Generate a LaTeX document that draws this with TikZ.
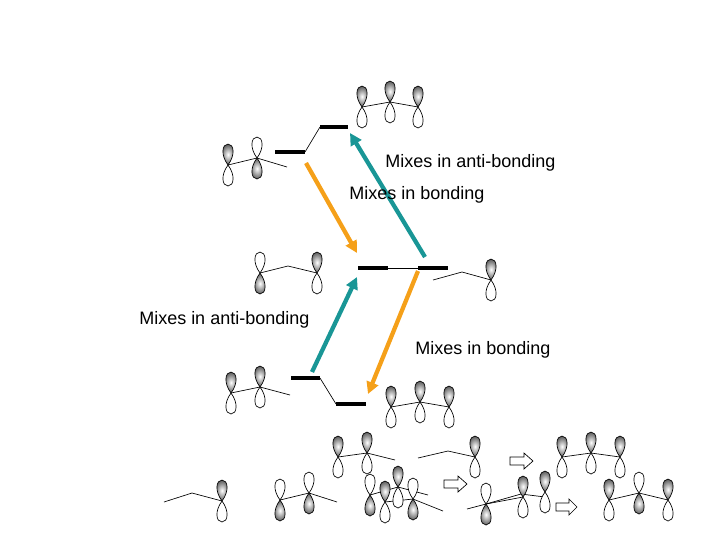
\documentclass[tikz,border=0pt]{standalone}
\usepackage{fontspec}
\setmainfont{Liberation Sans}
\begin{document}
\begin{tikzpicture}[x=0.75pt,y=-0.75pt,
  shl/.style={draw=black,line width=0.5pt,inner color=white,outer color=black!65,shading=radial},
  opl/.style={draw=black,line width=0.5pt,fill=white},
  bond/.style={line width=0.5pt},
  level/.style={line width=2.6pt},
  conn/.style={line width=0.5pt},
  orarr/.style={line width=3.2pt,draw={rgb,255:red,245;green,160;blue,25},-{Triangle[length=9pt,width=9pt]}},
  tlarr/.style={line width=3.2pt,draw={rgb,255:red,25;green,150;blue,150},-{Triangle[length=9pt,width=9pt]}},
  hol/.style={draw=black,line width=0.5pt,fill=white},
  lab/.style={font=\fontsize{13.5pt}{15pt}\selectfont,anchor=west,inner sep=0pt},
  orbU/.pic={\path[shl](0,0) .. controls (-7.5,-10) and (-6,-21) .. (0,-21) .. controls (6,-21) and (7.5,-10) .. (0,0);
    \path[opl](0,0) .. controls (-7.5,10) and (-6,21) .. (0,21) .. controls (6,21) and (7.5,10) .. (0,0);},
  orbD/.pic={\path[opl](0,0) .. controls (-7.5,-10) and (-6,-21) .. (0,-21) .. controls (6,-21) and (7.5,-10) .. (0,0);
    \path[shl](0,0) .. controls (-7.5,10) and (-6,21) .. (0,21) .. controls (6,21) and (7.5,10) .. (0,0);}
]
\useasboundingbox (0,0) rectangle (720,540);
\usetikzlibrary{arrows.meta}
% ---- top-left
\draw[bond] (228,165) -- (257,158) -- (287,167);
\pic at (228,165) {orbU}; \pic at (257,158) {orbD};
% ---- top-right
\draw[bond] (362,107) -- (390,102) -- (418,107);
\pic at (362,107) {orbU}; \pic at (390,102) {orbU}; \pic at (418,107) {orbU};
% ---- middle-left
\draw[bond] (260,273) -- (288,266) -- (317,273);
\pic at (260,273) {orbD}; \pic at (317,273) {orbU};
% ---- middle-right
\draw[bond] (433,280) -- (462,272) -- (491,280);
\pic at (491,280) {orbU};
% ---- bottom-left
\draw[bond] (231,393) -- (260,387) -- (290,395);
\pic at (231,393) {orbU}; \pic at (260,387) {orbU};
% ---- bottom-right
\draw[bond] (391,407) -- (420,402) -- (449,407);
\pic at (391,407) {orbU}; \pic at (420,402) {orbU}; \pic at (449,407) {orbU};
% ---- levels
\coordinate (t1a) at (275,152); \coordinate (t1b) at (305,152);
\coordinate (t2a) at (320,127); \coordinate (t2b) at (348,127);
\draw[level] (t1a) -- (t1b); \draw[level] (t2a) -- (t2b); \draw[conn] (t1b) -- (t2a);
\coordinate (m1a) at (358,268); \coordinate (m1b) at (388,268);
\coordinate (m2a) at (418,268); \coordinate (m2b) at (448,268);
\draw[level] (m1a) -- (m1b); \draw[level] (m2a) -- (m2b); \draw[conn] (m1b) -- (m2a);
\coordinate (b1a) at (291,378); \coordinate (b1b) at (320,378);
\coordinate (b2a) at (336,404); \coordinate (b2b) at (366,404);
\draw[level] (b1a) -- (b1b); \draw[level] (b2a) -- (b2b); \draw[conn] (b1b) -- (b2a);
% ---- arrows
\coordinate (o1s) at (306,163); \coordinate (o1e) at (357,253);
\coordinate (t1s) at (425,257); \coordinate (t1e) at (350,133);
\coordinate (t2s) at (312,372); \coordinate (t2e) at (357,277);
\coordinate (o2s) at (418,271); \coordinate (o2e) at (368,394);
\draw[orarr] (o1s) -- (o1e);
\draw[tlarr] (t1s) -- (t1e);
\draw[tlarr] (t2s) -- (t2e);
\draw[orarr] (o2s) -- (o2e);
% ---- labels
\node[lab] (l1) at (385,163) {Mixes in anti-bonding};
\node[lab] (l2) at (349,195) {Mixes in bonding};
\node[lab] (l3) at (139,320) {Mixes in anti-bonding};
\node[lab] (l4) at (415,350) {Mixes in bonding};
% ---- bottom row A
\draw[bond] (338,457) -- (367,453) -- (395,460);
\pic at (338,457) {orbU}; \pic at (367,453) {orbU};
\draw[bond] (418,458) -- (448,451) -- (475,457);
\pic at (475,457) {orbU};
\path[hol] (510,457) -- (524,457) -- (524,453) -- (533,461) -- (524,469) -- (524,465) -- (510,465) -- cycle;
\draw[bond] (562,457) -- (591,453) -- (620,457);
\pic at (562,457) {orbU}; \pic at (591,453) {orbU}; \pic at (620,457) {orbU};
% ---- bottom row B
\draw[bond] (164,502) -- (192,493) -- (222,501);
\pic at (222,501) {orbU};
\draw[bond] (280,500) -- (309,493) -- (337,502);
\pic at (280,500) {orbD}; \pic at (309,493) {orbD};
\draw[bond] (370,495) -- (398,487) -- (428,495);
\draw[bond] (385,502) -- (413,499) -- (443,511);
\pic at (370,495) {orbD}; \pic at (398,487) {orbU}; \pic at (385,502) {orbU}; \pic at (413,499) {orbD};
\path[hol] (444,480) -- (458,480) -- (458,476) -- (467,484) -- (458,492) -- (458,488) -- (444,488) -- cycle;
\draw[bond] (467,509) -- (486,504) -- (523,497);
\draw[bond] (486,504) -- (521,494) -- (545,497);
\pic at (486,504) {orbD}; \pic at (523,497) {orbU}; \pic at (545,492) {orbU};
\path[hol] (556,503) -- (569,503) -- (569,499) -- (577,507) -- (569,515) -- (569,511) -- (556,511) -- cycle;
\draw[bond] (609,500) -- (639,493) -- (668,500);
\pic at (609,500) {orbU}; \pic at (639,493) {orbD}; \pic at (668,500) {orbU};
\end{tikzpicture}
\end{document}
